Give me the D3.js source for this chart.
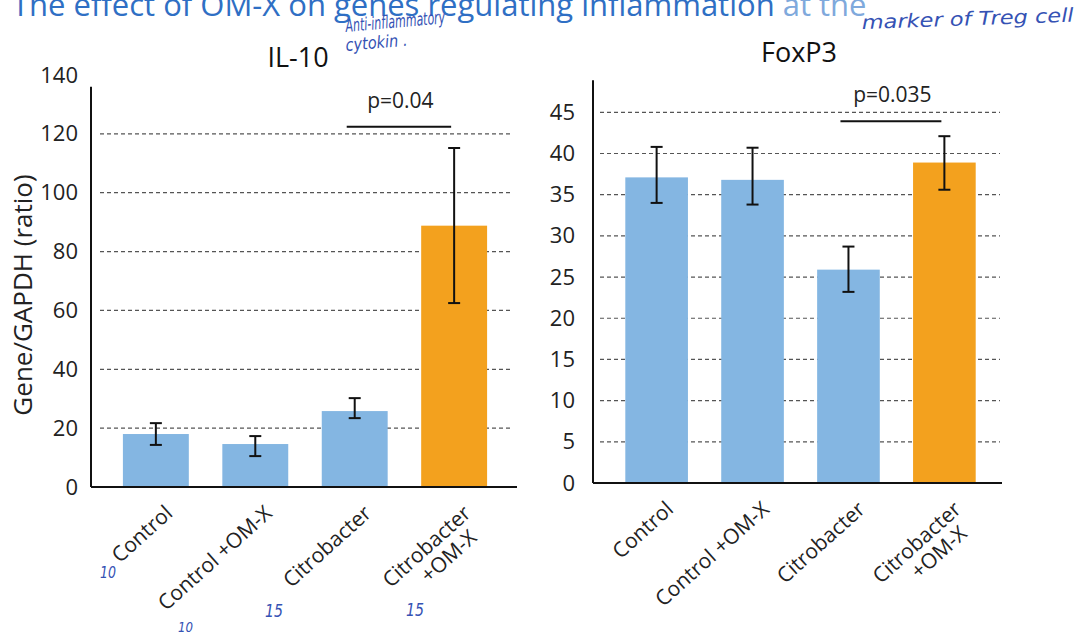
<!DOCTYPE html>
<html>
<head>
<meta charset="utf-8">
<script src="https://cdn.jsdelivr.net/npm/d3@7"></script>
<style>
  body { margin: 0; background: #fff; }
  svg { display: block; font-family: "Open Sans", "Noto Sans", sans-serif; }
  .note { font-family: "DejaVu Sans", sans-serif; font-style: italic; fill: #3552b4; }
</style>
</head>
<body>
<div id="chart-container"></div>
<script>
// groups on the x axis (last one wraps on two lines)
var groupLabels = [["Control"], ["Control +OM-X"], ["Citrobacter"], ["Citrobacter", "+OM-X"]];
var barColors = ["#84b6e2", "#84b6e2", "#84b6e2", "#f3a11e"];

// IL-10 panel
var il10Values = [18.0, 14.6, 25.8, 88.8];
var il10ErrHigh = [21.7, 17.3, 30.2, 115.2];
var il10ErrLow = [14.3, 10.5, 23.4, 62.5];
var il10Ticks = [0, 20, 40, 60, 80, 100, 120, 140];
var il10Grid = [20, 40, 60, 80, 100, 120];
var il10P = "p=0.04";

// FoxP3 panel
var foxp3Values = [37.1, 36.8, 25.9, 38.9];
var foxp3ErrHigh = [40.8, 40.7, 28.7, 42.1];
var foxp3ErrLow = [34.0, 33.8, 23.2, 35.6];
var foxp3Ticks = [0, 5, 10, 15, 20, 25, 30, 35, 40, 45];
var foxp3Grid = [5, 10, 15, 20, 25, 30, 35, 40, 45];
var foxp3P = "p=0.035";

var width = 1091, height = 637;

var svg = d3.select("#chart-container")
    .append("svg")
    .attr("width", width)
    .attr("height", height);

function drawPanel(p) {
    var g = svg.append("g");

    var x = d3.scaleBand()
        .domain(d3.range(p.values.length))
        .range(p.xRange)
        .paddingInner(p.padIn)
        .paddingOuter(p.padOut);

    var y = d3.scaleLinear()
        .domain(p.yDomain)
        .range(p.yRange);

    // dashed gridlines
    g.selectAll("line.grid")
        .data(p.grid)
        .enter().append("line")
        .attr("class", "grid")
        .attr("x1", p.gridX[0])
        .attr("x2", p.gridX[1])
        .attr("y1", function(d) { return y(d); })
        .attr("y2", function(d) { return y(d); })
        .attr("stroke", "#555")
        .attr("stroke-width", 1.2)
        .attr("stroke-dasharray", "4,3");

    // bars
    g.selectAll("rect.bar")
        .data(p.values)
        .enter().append("rect")
        .attr("class", "bar")
        .attr("x", function(d, i) { return x(i); })
        .attr("width", x.bandwidth())
        .attr("y", function(d) { return y(d); })
        .attr("height", function(d) { return y(0) - y(d); })
        .attr("fill", function(d, i) { return barColors[i]; });

    // error bars
    var eb = g.selectAll("g.err")
        .data(p.values)
        .enter().append("g")
        .attr("class", "err")
        .attr("stroke", "#111")
        .attr("stroke-width", 2);
    eb.append("line")
        .attr("x1", function(d, i) { return x(i) + x.bandwidth() / 2; })
        .attr("x2", function(d, i) { return x(i) + x.bandwidth() / 2; })
        .attr("y1", function(d, i) { return y(p.errHigh[i]); })
        .attr("y2", function(d, i) { return y(p.errLow[i]); });
    [p.errHigh, p.errLow].forEach(function(arr) {
        eb.append("line")
            .attr("x1", function(d, i) { return x(i) + x.bandwidth() / 2 - 6; })
            .attr("x2", function(d, i) { return x(i) + x.bandwidth() / 2 + 6; })
            .attr("y1", function(d, i) { return y(arr[i]); })
            .attr("y2", function(d, i) { return y(arr[i]); });
    });

    // y axis labels
    var yAxis = d3.axisLeft(y)
        .tickValues(p.ticks)
        .tickSize(0)
        .tickPadding(p.tickPad);
    g.append("g")
        .attr("class", "y-axis")
        .attr("transform", "translate(" + p.axisX + ",0)")
        .call(yAxis)
        .call(function(a) { a.select(".domain").remove(); })
        .selectAll("text")
        .attr("font-size", 22)
        .attr("fill", "#222")
        .attr("font-family", "Open Sans, sans-serif");

    // axis lines
    g.append("line")
        .attr("x1", p.axisX).attr("x2", p.axisX)
        .attr("y1", y(0)).attr("y2", y(p.axisTop))
        .attr("stroke", "#111").attr("stroke-width", 2);
    g.append("line")
        .attr("x1", p.axisX).attr("x2", p.xAxisEnd)
        .attr("y1", y(0)).attr("y2", y(0))
        .attr("stroke", "#111").attr("stroke-width", 2);

    // x labels, rotated
    var lab = g.selectAll("text.xlab")
        .data(groupLabels)
        .enter().append("text")
        .attr("class", "xlab")
        .attr("text-anchor", "end")
        .attr("font-size", 21)
        .attr("fill", "#222")
        .attr("transform", function(d, i) {
            return "translate(" + (x(i) + x.bandwidth() / 2 + 18) + "," + (y(0) + 28) + ") rotate(-42)";
        });
    lab.selectAll("tspan")
        .data(function(d) { return d; })
        .enter().append("tspan")
        .attr("x", function(d, j) { return j === 0 ? 0 : -12; })
        .attr("dy", function(d, j) { return j === 0 ? 0 : "1.05em"; })
        .text(function(d) { return d; });

    // significance bracket
    var c3 = x(2) + x.bandwidth() / 2, c4 = x(3) + x.bandwidth() / 2;
    g.append("line")
        .attr("x1", c3 - 8).attr("x2", c4 - 3)
        .attr("y1", y(p.pLevel)).attr("y2", y(p.pLevel))
        .attr("stroke", "#111").attr("stroke-width", 2);
    g.append("text")
        .attr("x", (c3 + c4) / 2 - 4)
        .attr("y", y(p.pLevel) - p.pGap)
        .attr("text-anchor", "middle")
        .attr("font-size", 21)
        .attr("fill", "#222")
        .text(p.pText);

    // panel title
    g.append("text")
        .attr("x", p.titleX)
        .attr("y", p.titleY)
        .attr("text-anchor", "middle")
        .attr("font-size", 27)
        .attr("fill", "#111")
        .text(p.title);
}

drawPanel({
    title: "IL-10", titleX: 298, titleY: 67,
    values: il10Values, errHigh: il10ErrHigh, errLow: il10ErrLow,
    ticks: il10Ticks, grid: il10Grid,
    yDomain: [0, 140], yRange: [487, 75], axisTop: 136,
    xRange: [106, 504], padIn: 0.337, padOut: 0.17,
    axisX: 91, xAxisEnd: 517, gridX: [100, 513], tickPad: 13,
    pLevel: 122.4, pText: il10P, pGap: 19
});

drawPanel({
    title: "FoxP3", titleX: 799, titleY: 62,
    values: foxp3Values, errHigh: foxp3ErrHigh, errLow: foxp3ErrLow,
    ticks: foxp3Ticks, grid: foxp3Grid,
    yDomain: [0, 45], yRange: [483, 112.3], axisTop: 48.9,
    xRange: [609, 992], padIn: 0.347, padOut: 0.17,
    axisX: 593, xAxisEnd: 1002, gridX: [600, 1000], tickPad: 18,
    pLevel: 43.9, pText: foxp3P, pGap: 19
});

// y axis title
svg.append("text")
    .attr("transform", "translate(32,295) rotate(-90)")
    .attr("text-anchor", "middle")
    .attr("font-size", 26)
    .attr("fill", "#222")
    .text("Gene/GAPDH (ratio)");

// slide heading, cut off at the top edge in the original
var head = svg.append("text")
    .attr("x", 12)
    .attr("y", 16)
    .attr("font-size", 31)
    .attr("fill", "#2f6fc4");
head.append("tspan").text("The effect of OM-X on genes regulating inflammation ");
head.append("tspan").attr("fill", "#7fa9dc").text("at the");

// handwritten notes
var notes = [
    { t: "Anti-inflammatory", x: 346, y: 32, s: 18, w: 100, r: -5 },
    { t: "cytokin .", x: 346, y: 51, s: 17, w: 62, r: -5 },
    { t: "marker of Treg cell", x: 862, y: 29, s: 19, w: 212, r: -2 },
    { t: "10", x: 100, y: 578, s: 15, w: 16, r: 0 },
    { t: "10", x: 178, y: 632, s: 14, w: 15, r: 0 },
    { t: "15", x: 265, y: 617, s: 17, w: 18, r: 0 },
    { t: "15", x: 406, y: 616, s: 17, w: 18, r: 0 }
];
svg.selectAll("text.note")
    .data(notes)
    .enter().append("text")
    .attr("class", "note")
    .attr("font-size", function(d) { return d.s; })
    .attr("textLength", function(d) { return d.w; })
    .attr("lengthAdjust", "spacingAndGlyphs")
    .attr("transform", function(d) { return "translate(" + d.x + "," + d.y + ") rotate(" + d.r + ")"; })
    .text(function(d) { return d.t; });
</script>
</body>
</html>
